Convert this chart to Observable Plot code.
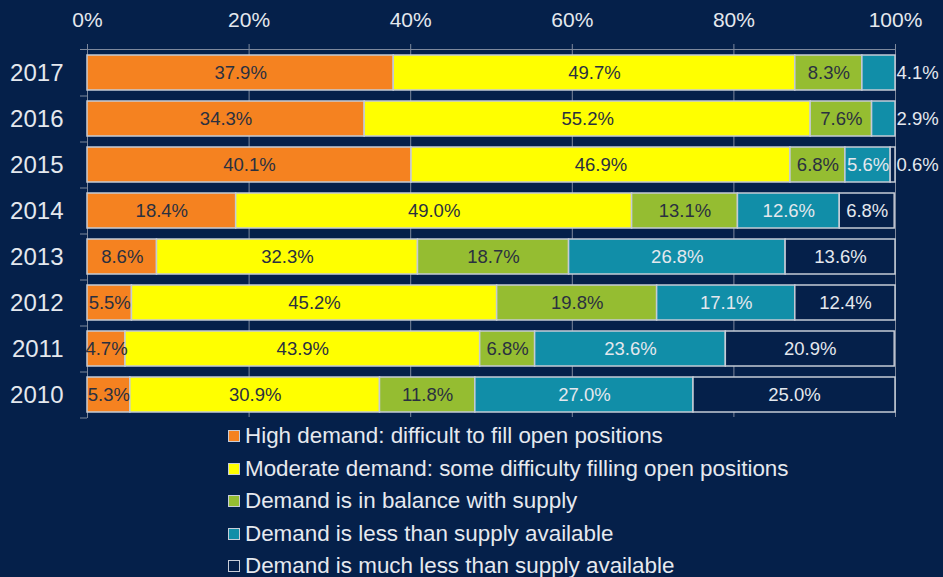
<!DOCTYPE html>
<html>
<head>
<meta charset="utf-8">
<script src="https://cdn.jsdelivr.net/npm/d3@7"></script>
<script src="https://cdn.jsdelivr.net/npm/@observablehq/plot@0.6"></script>
<style>
  html, body { margin:0; padding:0; background:#05204a; }
  #chart svg { display:block; }
  #legend { margin-left:228px; font-family:"Liberation Sans", Arial, sans-serif; font-size:22.4px; color:#e6e9ef; }
  #legend .item { height:32.5px; line-height:32.5px; display:flex; align-items:center; white-space:nowrap; }
  #legend .sw { width:10px; height:10px; border:1px solid #c8cdd8; margin-right:5px; flex:none; }
</style>
</head>
<body>
<div id="chart"></div>
<div id="legend"></div>
<script>
const years = ["2017","2016","2015","2014","2013","2012","2011","2010"];
const categories = [
  "High demand: difficult to fill open positions",
  "Moderate demand: some difficulty filling open positions",
  "Demand is in balance with supply",
  "Demand is less than supply available",
  "Demand is much less than supply available"
];
const high     = [37.9, 34.3, 40.1, 18.4,  8.6,  5.5,  4.7,  5.3];
const moderate = [49.7, 55.2, 46.9, 49.0, 32.3, 45.2, 43.9, 30.9];
const balance  = [ 8.3,  7.6,  6.8, 13.1, 18.7, 19.8,  6.8, 11.8];
const less     = [ 4.1,  2.9,  5.6, 12.6, 26.8, 17.1, 23.6, 27.0];
const muchLess = [ 0.0,  0.0,  0.6,  6.8, 13.6, 12.4, 20.9, 25.0];
const xTicks = [0, 20, 40, 60, 80, 100];
const colors = ["#f58220", "#ffff00", "#95bd31", "#118ea8", "#05204a"];

const series = [high, moderate, balance, less, muchLess];
const rows = [];
years.forEach((year, i) => {
  let cum = 0;
  series.forEach((vals, ci) => {
    const value = vals[i];
    cum += value;
    if (value > 0) rows.push({year, cat: categories[ci], ci, value, end: cum});
  });
});
// small values in the last two categories are labelled outside the bar
const isOutside = d => d.ci >= 3 && d.value < 5;
const insideRows = rows.filter(d => !isOutside(d));
const outsideRows = rows.filter(isOutside);

const bg = "#05204a";
const light = "#e4e8ee";
const dark = "#2a3040";
const gridColor = "#7d889c";

const chart = Plot.plot({
  width: 943,
  height: 420,
  marginLeft: 87,
  marginRight: 48,
  marginTop: 49,
  marginBottom: 3,
  style: {background: bg, color: light, fontFamily: "'Liberation Sans', Arial, sans-serif"},
  x: {domain: [0, 100], axis: null},
  y: {domain: years, paddingInner: 0.24, paddingOuter: 0.12, axis: null},
  color: {domain: categories, range: colors},
  marks: [
    Plot.ruleX(xTicks, {x: d => d, stroke: gridColor, strokeWidth: 1}),
    Plot.axisX({anchor: "top", label: null, ticks: xTicks, tickFormat: d => d + "%", tickSize: 6, tickPadding: 17, fontSize: 21, stroke: gridColor, color: light}),
    Plot.axisY({anchor: "left", label: null, tickSize: 0, tickPadding: 24, fontSize: 24, color: light}),
    Plot.axisY({anchor: "left", label: null, tickSize: 7, tickFormat: () => "", dy: 23, stroke: gridColor}),
    Plot.frame({anchor: "top", stroke: gridColor, insetLeft: -7}),
    Plot.frame({anchor: "left", stroke: gridColor}),
    Plot.barX(rows, Plot.stackX({x: "value", y: "year", fill: "cat", order: categories, stroke: "#c5cbd6", strokeWidth: 1.5})),
    Plot.text(insideRows, Plot.stackX({
      x: "value", y: "year", z: "cat", order: categories,
      text: d => d.value.toFixed(1) + "%",
      fill: d => d.ci < 3 ? dark : light,
      fontSize: 18.5
    })),
    Plot.text(outsideRows, {
      x: "end", y: "year",
      text: d => d.value.toFixed(1) + "%",
      fill: light, textAnchor: "start", dx: 1, fontSize: 18.5
    })
  ]
});
document.getElementById("chart").append(chart);

const legend = document.getElementById("legend");
categories.forEach((c, i) => {
  const item = document.createElement("div");
  item.className = "item";
  const sw = document.createElement("span");
  sw.className = "sw";
  sw.style.background = colors[i];
  const t = document.createElement("span");
  t.textContent = c;
  item.append(sw, t);
  legend.append(item);
});
</script>
</body>
</html>
